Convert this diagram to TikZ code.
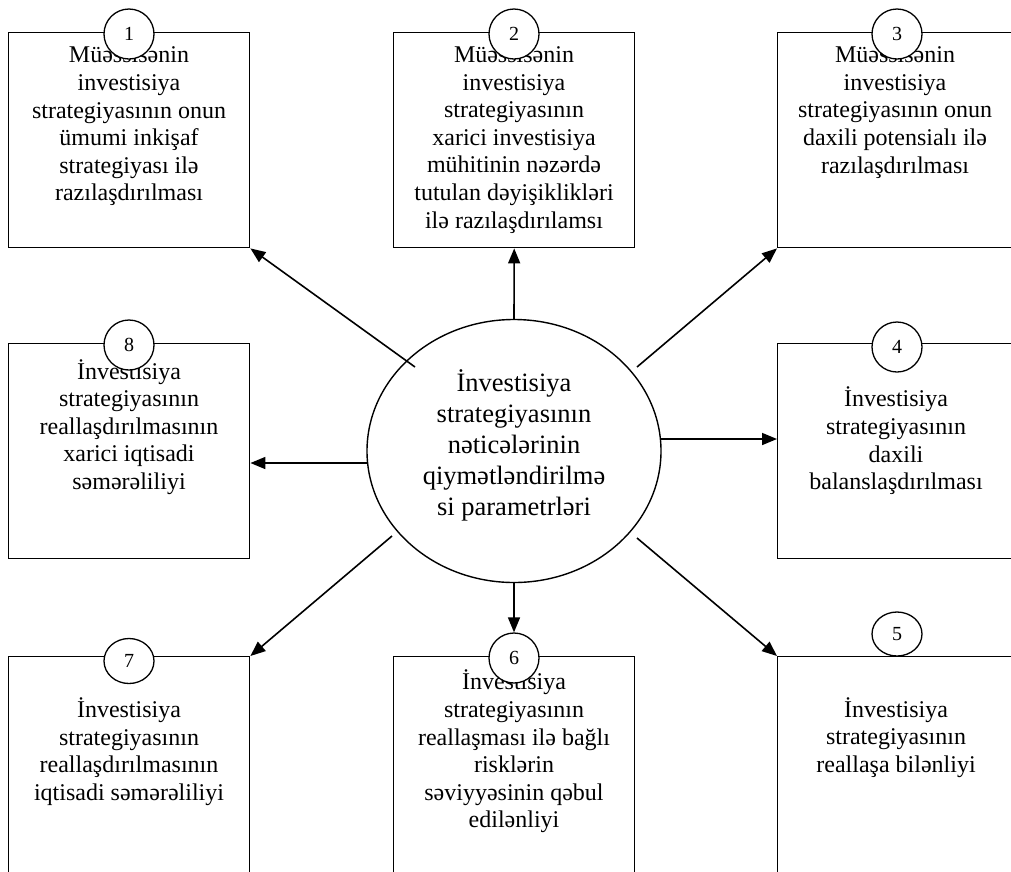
\documentclass[tikz,border=0pt]{standalone}
\usepackage{fontspec}
\setmainfont{Liberation Serif}
\usetikzlibrary{arrows.meta,shapes.geometric}

\begin{document}
\begin{tikzpicture}[x=1pt,y=-1pt,
  panel/.style={draw,line width=1.4pt,inner sep=0pt,anchor=north west},
  num/.style={draw,line width=1.3pt,fill=white,ellipse,inner sep=0pt,
    minimum width=50pt,minimum height=50pt,font=\fontsize{20}{24}\selectfont},
  boxtext/.style={align=center,inner sep=0pt,font=\fontsize{24}{27.6}\selectfont},
  arrowline/.style={line width=1.6pt,-{Triangle[length=15pt,width=12pt]}}]

\useasboundingbox (0,0) rectangle (1011,871);
\clip (0,0) rectangle (1011,871);

% rectangles (those on the right and bottom run past the page edge)
\node[panel,minimum width=241pt,minimum height=215pt] (b1) at (8,32) {};
\node[panel,minimum width=241pt,minimum height=215pt] (b2) at (393,32) {};
\node[panel,minimum width=260pt,minimum height=215pt] (b3) at (777,32) {};
\node[panel,minimum width=260pt,minimum height=215pt] (b4) at (777,343) {};
\node[panel,minimum width=241pt,minimum height=215pt] (b8) at (8,343) {};
\node[panel,minimum width=241pt,minimum height=240pt] (b7) at (8,656) {};
\node[panel,minimum width=241pt,minimum height=240pt] (b6) at (393,656) {};
\node[panel,minimum width=260pt,minimum height=240pt] (b5) at (777,656) {};

% texts in the rectangles
\node[boxtext] (t1) at (129,126.5) {Müəssisənin\\investisiya\\strategiyasının onun\\ümumi inkişaf\\strategiyası ilə\\razılaşdırılması};
\node[boxtext] (t2) at (514,140) {Müəssisənin\\investisiya\\strategiyasının\\xarici investisiya\\mühitinin nəzərdə\\tutulan dəyişiklikləri\\ilə razılaşdırılamsı};
\node[boxtext] (t3) at (895,112.5) {Müəssisənin\\investisiya\\strategiyasının onun\\daxili potensialı ilə\\razılaşdırılması};
\node[boxtext] (t4) at (896,441) {İnvestisiya\\strategiyasının\\daxili\\balanslaşdırılması};
\node[boxtext] (t8) at (129,427) {İnvestisiya\\strategiyasının\\reallaşdırılmasının\\xarici iqtisadi\\səmərəliliyi};
\node[boxtext] (t7) at (129,751.5) {İnvestisiya\\strategiyasının\\reallaşdırılmasının\\iqtisadi səmərəliliyi};
\node[boxtext] (t6) at (514,751.5) {İnvestisiya\\strategiyasının\\reallaşması ilə bağlı\\risklərin\\səviyyəsinin qəbul\\edilənliyi};
\node[boxtext] (t5) at (896,737.5) {İnvestisiya\\strategiyasının\\reallaşa bilənliyi};

% numbered circles
\node[num] (c1) at (129,34) {1};
\node[num] (c2) at (514,34) {2};
\node[num] (c3) at (897,34) {3};
\node[num] (c4) at (897,347) {4};
\node[num] (c8) at (129,345) {8};
\node[num] (c6) at (514,658) {6};
\node[num,minimum height=45pt] (c7) at (129,661) {7};
\node[num,minimum height=44pt] (c5) at (897,634) {5};

% central ellipse
\node[draw,ellipse,line width=1.4pt,inner sep=0pt,minimum width=294pt,minimum height=263pt] (e) at (514,451) {};
\node[align=center,inner sep=0pt,font=\fontsize{26.5}{31}\selectfont] (te) at (514,445)
  {İnvestisiya\\strategiyasının\\nəticələrinin\\qiymətləndirilmə\\si parametrləri};

% arrows from the ellipse
\coordinate (s1) at (415,367);
\coordinate (s3) at (637,367);
\coordinate (s4) at (660,439);
\coordinate (s8) at (368,463);
\coordinate (s7) at (392,536);
\coordinate (s5) at (637,538);
\draw[arrowline] (s1) -- (b1.south east);
\draw[arrowline] (e.north) -- (b2.south);
\draw[arrowline] (s3) -- (b3.south west);
\draw[arrowline] (s4) -- (b4.west |- s4);
\draw[arrowline] (s8) -- (b8.east |- s8);
\draw[arrowline] (s7) -- (b7.north east);
\draw[arrowline] (e.south) -- (c6.north);
\draw[arrowline] (s5) -- (b5.north west);
\end{tikzpicture}
\end{document}
